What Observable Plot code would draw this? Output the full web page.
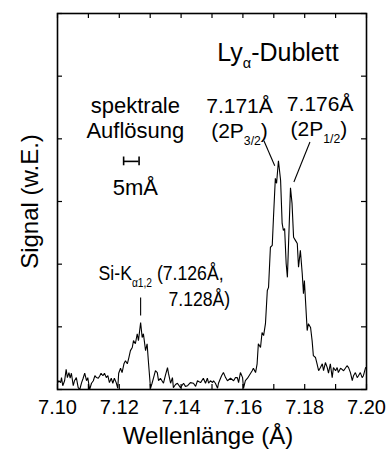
<!DOCTYPE html>
<html>
<head>
<meta charset="utf-8">
<script src="https://cdn.jsdelivr.net/npm/d3@7"></script>
<script src="https://cdn.jsdelivr.net/npm/@observablehq/plot@0.6"></script>
<style>
  html, body { margin: 0; padding: 0; background: white; }
</style>
</head>
<body>
<div id="chart"></div>
<script>
// ---- Data ----
const wavelength = [
  7.1000,7.1004,7.1010,7.1013,7.1017,7.1023,7.1028,7.1032,7.1037,7.1041,
  7.1045,7.1051,7.1055,7.1061,7.1067,7.1072,7.1078,7.1083,7.1088,7.1094,
  7.1098,7.1104,7.1110,7.1116,7.1121,7.1126,7.1132,7.1137,7.1141,7.1147,
  7.1152,7.1158,7.1163,7.1168,7.1174,7.1179,7.1184,7.1190,7.1195,7.1198,
  7.1204,7.1209,7.1215,7.1220,7.1226,7.1231,7.1236,7.1242,7.1246,7.1252,
  7.1258,7.1262,7.1269,7.1274,7.1278,7.1285,7.1290,7.1294,7.1301,7.1306,
  7.1311,7.1317,7.1323,7.1327,7.1333,7.1343,7.1349,7.1356,7.1359,7.1366,
  7.1372,7.1375,7.1382,7.1388,7.1398,7.1408,7.1414,7.1421,7.1430,7.1440,
  7.1447,7.1453,7.1463,7.1472,7.1479,7.1485,7.1489,7.1495,7.1502,7.1505,
  7.1511,7.1518,7.1521,7.1531,7.1537,7.1544,7.1550,7.1560,7.1570,7.1576,
  7.1582,7.1586,7.1592,7.1599,7.1602,7.1608,7.1615,7.1625,7.1630,7.1634,
  7.1641,7.1646,7.1650,7.1657,7.1662,7.1667,7.1673,7.1679,7.1683,7.1689,
  7.1695,7.1699,7.1705,7.1709,7.1715,7.1722,7.1727,7.1731,7.1735,7.1740,
  7.1744,7.1747,7.1754,7.1759,7.1764,7.1770,7.1776,7.1780,7.1786,7.1792,
  7.1796,7.1799,7.1808,7.1812,7.1819,7.1824,7.1828,7.1835,7.1840,7.1845,
  7.1851,7.1857,7.1861,7.1867,7.1873,7.1877,7.1883,7.1889,7.1893,7.1900,
  7.1905,7.1909,7.1916,7.1926,7.1937,7.1942,7.1948,7.1954,7.1958,7.1964,
  7.1970,7.1974,7.1980,7.1986,7.1990,7.1997
];
const signal = [
  0.10,0.14,0.11,0.19,0.06,0.14,0.32,0.19,0.27,0.18,
  0.26,0.06,0.14,0.19,0.03,0.00,0.11,0.18,0.26,0.14,
  0.19,0.00,0.10,0.14,0.22,0.19,0.18,0.22,0.26,0.22,
  0.26,0.19,0.22,0.11,0.18,0.10,0.18,0.11,0.02,0.26,
  0.34,0.27,0.41,0.46,0.41,0.51,0.62,0.67,0.78,0.73,
  0.89,0.78,1.07,0.83,0.89,0.62,0.73,0.46,0.02,0.10,
  0.19,0.30,0.27,0.14,0.18,0.10,0.22,0.35,0.26,0.10,
  0.19,0.03,0.08,0.10,0.03,0.10,0.05,0.06,0.11,0.10,
  0.05,0.14,0.11,0.18,0.10,0.18,0.10,0.14,0.11,0.14,
  0.10,0.02,0.10,0.22,0.27,0.19,0.14,0.18,0.14,0.19,
  0.19,0.11,0.27,0.19,0.02,0.14,0.18,0.26,0.30,0.34,
  0.27,0.41,0.73,0.67,0.91,0.86,1.05,1.58,1.63,2.27,
  2.30,2.75,3.37,3.29,3.65,3.34,2.65,2.54,2.57,2.01,
  1.79,2.22,3.22,2.97,2.43,2.38,2.33,1.95,2.22,1.85,
  1.53,1.74,0.94,1.05,0.99,0.78,0.54,0.51,0.41,0.30,
  0.35,0.41,0.30,0.43,0.35,0.26,0.41,0.19,0.35,0.30,
  0.35,0.27,0.34,0.30,0.38,0.35,0.27,0.14,0.22,0.27,
  0.19,0.22,0.27,0.19,0.22,0.35
];

const xTicks = [7.10,7.11,7.12,7.13,7.14,7.15,7.16,7.17,7.18,7.19,7.20];
const xTickLabels = [7.10,7.12,7.14,7.16,7.18,7.20];
const yTicks = [0,1,2,3,4,5,6];

const xLabel = "Wellenlänge (Å)";
const yLabel = "Signal (w.E.)";

// annotation texts (subscripts written as _{...})
const annoText   = ["Ly_{α}-Dublett", "spektrale", "Auflösung", "5mÅ", "7.171Å", "(2P_{3/2})", "7.176Å", "(2P_{1/2})"];
const annoX      = [7.1517, 7.1252, 7.1252, 7.1252, 7.1589, 7.1589, 7.1850, 7.1846];
const annoY      = [5.25, 4.42, 4.01, 3.11, 4.42, 4.01, 4.45, 4.04];
const annoAnchor = ["start", "middle", "middle", "middle", "middle", "middle", "middle", "middle"];
const annoSize   = [25, 22, 22, 22, 21, 21, 21, 21];

const siText = ["Si-K_{α1,2} (7.126Å,", "7.128Å)"];
const siX    = [7.1133, 7.1359];
const siY    = [1.74, 1.34];

// pointer lines: [x1, y1, x2, y2]
const pointerX1 = [7.1269, 7.1668, 7.1817];
const pointerY1 = [1.47, 3.97, 3.95];
const pointerX2 = [7.1269, 7.1703, 7.1765];
const pointerY2 = [1.18, 3.57, 3.31];

// spectral resolution bar (5 mÅ)
const resLo = 7.1214, resHi = 7.1264, resY = 3.64, resCap = 0.07;

// ---- Build tables ----
const spectrum = wavelength.map((w, i) => ({w, s: signal[i]}));
const annos = annoText.map((t, i) => ({t, x: annoX[i], y: annoY[i], a: annoAnchor[i], f: annoSize[i]}));
const siAnnos = siText.map((t, i) => ({t, x: siX[i], y: siY[i]}));
const pointers = pointerX1.map((x1, i) => ({x1, y1: pointerY1[i], x2: pointerX2[i], y2: pointerY2[i]}));
const resBar = [{lo: resLo, hi: resHi, y: resY}];
const resCaps = [resLo, resHi].map(x => ({x, y1: resY - resCap, y2: resY + resCap}));

const W = 386, H = 452;
const mL = 57, mR = 20, mT = 13, mB = 63;
const plotW = W - mL - mR, plotH = H - mT - mB;
const tickLen = 5;

const font = "'Liberation Sans', Arial, Helvetica, sans-serif";

const chart = Plot.plot({
  width: W,
  height: H,
  marginLeft: mL, marginRight: mR, marginTop: mT, marginBottom: mB,
  style: {fontFamily: font, background: "white", color: "black", overflow: "visible"},
  x: {domain: [7.10, 7.20], axis: null},
  y: {domain: [0, 6], axis: null},
  marks: [
    // inward ticks
    Plot.tickX(xTicks, {x: d => d, insetTop: plotH - tickLen, stroke: "black", strokeWidth: 1.2}),
    Plot.tickX(xTicks, {x: d => d, insetBottom: plotH - tickLen, stroke: "black", strokeWidth: 1.2}),
    Plot.tickY(yTicks, {y: d => d, insetRight: plotW - tickLen, stroke: "black", strokeWidth: 1.2}),
    Plot.tickY(yTicks, {y: d => d, insetLeft: plotW - tickLen, stroke: "black", strokeWidth: 1.2}),
    // tick labels
    Plot.axisX(xTickLabels, {anchor: "bottom", tickSize: 0, tickPadding: 10, fontSize: 20, label: null,
      tickFormat: d => d.toFixed(2), fill: "black"}),
    // axis titles
    Plot.text([xLabel], {text: d => d, frameAnchor: "bottom", textAnchor: "middle", dx: -4, dy: 54, lineAnchor: "bottom", fontSize: 24, fill: "black"}),
    Plot.text([yLabel], {text: d => d, frameAnchor: "left", textAnchor: "middle", dx: -20, rotate: -90, lineAnchor: "bottom", fontSize: 24, fill: "black"}),
    // spectrum
    Plot.line(spectrum, {x: "w", y: "s", stroke: "black", strokeWidth: 1.1, strokeLinejoin: "miter"}),
    // pointers
    Plot.link(pointers, {x1: "x1", y1: "y1", x2: "x2", y2: "y2", stroke: "black", strokeWidth: 1.1}),
    // resolution bar
    Plot.ruleY(resBar, {y: "y", x1: "lo", x2: "hi", stroke: "black", strokeWidth: 1.6}),
    Plot.ruleX(resCaps, {x: "x", y1: "y1", y2: "y2", stroke: "black", strokeWidth: 1.6}),
    // annotations
    Plot.text(annos, {x: "x", y: "y", text: "t", textAnchor: "start", lineAnchor: "bottom", fontSize: "f", fill: "black",
      filter: d => d.a === "start"}),
    Plot.text(annos, {x: "x", y: "y", text: "t", textAnchor: "middle", lineAnchor: "bottom", fontSize: "f", fill: "black",
      filter: d => d.a === "middle"}),
    Plot.text(siAnnos, {x: "x", y: "y", text: "t", textAnchor: "start", lineAnchor: "bottom", fontSize: 21, fill: "black"}),
    // frame
    Plot.frame({stroke: "black", strokeWidth: 1.6})
  ]
});

// subscripts: turn _{...} into real tspans
const SVGNS = "http://www.w3.org/2000/svg";
chart.querySelectorAll("text").forEach(t => {
  const s = t.textContent;
  const isSi = siText.includes(s);
  if (isSi) {
    const tr = t.getAttribute("transform") || "";
    t.setAttribute("transform", tr + " scale(0.84,1)");
  }
  if (!s.includes("_{")) return;
  let fs = parseFloat(t.getAttribute("font-size"));
  if (!fs) {
    let p = t.parentNode;
    while (p && p.getAttribute && !p.getAttribute("font-size")) p = p.parentNode;
    fs = p && p.getAttribute ? parseFloat(p.getAttribute("font-size")) : 20;
  }
  const parts = s.split(/(_\{[^}]*\})/).filter(p => p.length);
  t.textContent = "";
  let down = false;
  for (const p of parts) {
    const ts = document.createElementNS(SVGNS, "tspan");
    if (p.startsWith("_{")) {
      ts.textContent = p.slice(2, -1);
      ts.setAttribute("font-size", (fs * 0.58).toFixed(1));
      ts.setAttribute("dy", (fs * 0.3).toFixed(1));
      down = true;
    } else {
      ts.textContent = p;
      if (down) { ts.setAttribute("dy", (-fs * 0.3).toFixed(1)); down = false; }
    }
    t.appendChild(ts);
  }
});

document.getElementById("chart").appendChild(chart);
</script>
</body>
</html>
